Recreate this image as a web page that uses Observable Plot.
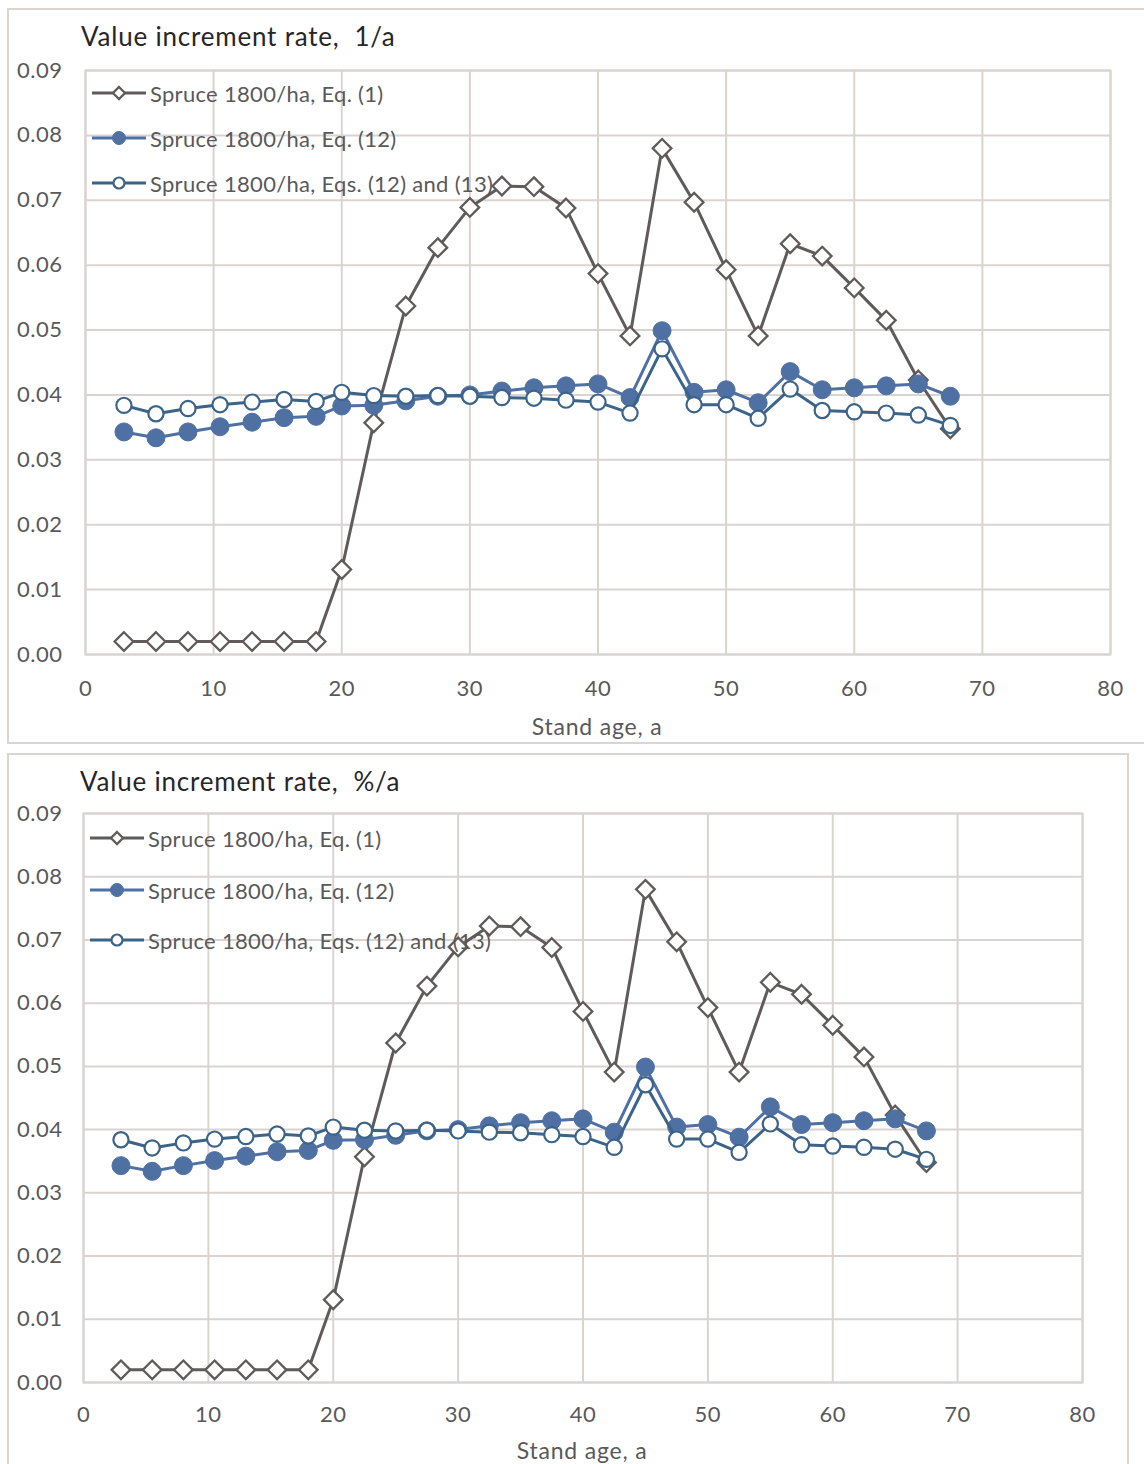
<!DOCTYPE html>
<html>
<head>
<meta charset="utf-8">
<script src="https://cdn.jsdelivr.net/npm/d3@7"></script>
<script src="https://cdn.jsdelivr.net/npm/@observablehq/plot@0.6"></script>
<style>
  body { margin: 0; background: #fff; font-family: Lato, "Open Sans", sans-serif; }
  #page { position: relative; width: 1144px; height: 1464px; overflow: hidden; background: #fff; }
  .panel { position: absolute; border: 2px solid #dbd5d2; box-sizing: border-box; }
  .title { position: absolute; font-size: 26px; line-height: 26px; letter-spacing: 0.8px; color: #262626; white-space: pre; }
  .xlabel { position: absolute; font-size: 23px; line-height: 23px; letter-spacing: 0.8px; color: #595959; white-space: pre; transform: translateX(-50%); }
  .legend-item { position: absolute; z-index: 2; display: flex; align-items: center; white-space: pre; font-size: 22px; letter-spacing: 0.3px; color: #595959; }
  .legend-item svg { display: block; margin-right: 4px; }
  .plot { position: absolute; left: 0; z-index: 1; }
  .plot text { letter-spacing: 0.5px; }
</style>
</head>
<body>
<div id="page"></div>
<script>
// ---- data ----
const ages = [3, 5.5, 8, 10.5, 13, 15.5, 18, 20, 22.5, 25, 27.5, 30, 32.5, 35, 37.5, 40, 42.5, 45, 47.5, 50, 52.5, 55, 57.5, 60, 62.5, 65, 67.5];
const eq1 = [0.002, 0.002, 0.002, 0.002, 0.002, 0.002, 0.002, 0.0131, 0.0357, 0.0537, 0.0627, 0.0689, 0.0722, 0.0721, 0.0688, 0.0587, 0.0491, 0.0780, 0.0697, 0.0593, 0.0491, 0.0633, 0.0614, 0.0565, 0.0515, 0.0423, 0.0348];
const eq12 = [0.0343, 0.0334, 0.0343, 0.0351, 0.0358, 0.0365, 0.0367, 0.0383, 0.0384, 0.0391, 0.0398, 0.0400, 0.0406, 0.0411, 0.0414, 0.0417, 0.0396, 0.0499, 0.0404, 0.0408, 0.0388, 0.0436, 0.0408, 0.0411, 0.0414, 0.0417, 0.0398];
const eq12and13 = [0.0384, 0.0371, 0.0379, 0.0385, 0.0389, 0.0393, 0.0390, 0.0404, 0.0399, 0.0398, 0.0399, 0.0398, 0.0396, 0.0395, 0.0392, 0.0389, 0.0372, 0.0471, 0.0385, 0.0385, 0.0364, 0.0409, 0.0376, 0.0374, 0.0372, 0.0369, 0.0353];
const seriesNames = ["Spruce 1800/ha, Eq. (1)", "Spruce 1800/ha, Eq. (12)", "Spruce 1800/ha, Eqs. (12) and (13)"];
const chartTitles = ["Value increment rate,  1/a", "Value increment rate,  %/a"];
const xAxisTitle = "Stand age, a";
const xTicks = [0, 10, 20, 30, 40, 50, 60, 70, 80];
const yTicks = [0, 0.01, 0.02, 0.03, 0.04, 0.05, 0.06, 0.07, 0.08, 0.09];

// ---- styles ----
const GRID = "#dad4d1";
const styles = [
  {stroke: "#5f5b5a", symbol: "diamond2", r: 8.4, fill: "#fff", markStroke: "#5f5b5a", sw: 2.3, legR: 6},
  {stroke: "#4f70a3", symbol: "circle", r: 9, fill: "#4f70a3", markStroke: "#4f70a3", sw: 1, legR: 6.5},
  {stroke: "#3c6388", symbol: "circle", r: 7.6, fill: "#fff", markStroke: "#3c6388", sw: 2.2, legR: 5.5}
];
const seriesValues = [eq1, eq12, eq12and13];

const panels = [
  {frame: {left: 7, top: 8, width: 1160, height: 736}, svgTop: 0, svgHeight: 744, mL: 85, mR: 34, mT: 70, mB: 90,
   titleLeft: 81, titleTop: 23, xlabelX: 597, xlabelTop: 715, legendX: 92, legendY: [93, 138, 183], tickPadX: 26, tickPadY: 23},
  {frame: {left: 7, top: 753, width: 1122, height: 740}, svgTop: 753, svgHeight: 711, mL: 83, mR: 62, mT: 60, mB: 82,
   titleLeft: 80, titleTop: 768, xlabelX: 582, xlabelTop: 1439, legendX: 90, legendY: [838, 890, 940], tickPadX: 24, tickPadY: 21}
];

const page = document.getElementById("page");

function symbolSvg(st) {
  const w = 54, h = 22, cx = 27, cy = 11;
  let marker;
  if (st.symbol === "diamond2") {
    const d = st.legR;
    marker = `<path d="M${cx},${cy - d}L${cx + d},${cy}L${cx},${cy + d}L${cx - d},${cy}Z" fill="${st.fill}" stroke="${st.markStroke}" stroke-width="${st.sw}"/>`;
  } else {
    marker = `<circle cx="${cx}" cy="${cy}" r="${st.legR}" fill="${st.fill}" stroke="${st.markStroke}" stroke-width="${st.sw}"/>`;
  }
  return `<svg width="${w}" height="${h}"><line x1="0" x2="${w}" y1="${cy}" y2="${cy}" stroke="${st.stroke}" stroke-width="3"/>${marker}</svg>`;
}

panels.forEach((p, pi) => {
  const frame = document.createElement("div");
  frame.className = "panel";
  Object.assign(frame.style, {left: p.frame.left + "px", top: p.frame.top + "px", width: p.frame.width + "px", height: p.frame.height + "px"});
  page.appendChild(frame);

  const title = document.createElement("div");
  title.className = "title";
  title.textContent = chartTitles[pi];
  Object.assign(title.style, {left: p.titleLeft + "px", top: p.titleTop + "px"});
  page.appendChild(title);

  // legend
  seriesNames.forEach((name, si) => {
    const item = document.createElement("div");
    item.className = "legend-item";
    item.innerHTML = symbolSvg(styles[si]) + `<span>${name}</span>`;
    Object.assign(item.style, {left: p.legendX + "px", top: (p.legendY[si] - 12) + "px", height: "24px"});
    page.appendChild(item);
  });

  const marks = [
    Plot.gridX(xTicks, {stroke: GRID, strokeOpacity: 1, strokeWidth: 2}),
    Plot.gridY(yTicks, {stroke: GRID, strokeOpacity: 1, strokeWidth: 2}),
    Plot.frame({stroke: GRID, strokeWidth: 2}),
    Plot.axisX(xTicks, {tickSize: 0, tickPadding: p.tickPadX, label: null, fontSize: 22, fill: "#595959"}),
    Plot.axisY(yTicks, {tickSize: 0, tickPadding: p.tickPadY, label: null, tickFormat: d3.format(".2f"), fontSize: 22, fill: "#595959"})
  ];
  seriesValues.forEach((vals, si) => {
    const st = styles[si];
    const rows = ages.map((a, i) => ({age: a, value: vals[i]}));
    marks.push(Plot.line(rows, {x: "age", y: "value", stroke: st.stroke, strokeWidth: 3}));
    marks.push(Plot.dot(rows, {x: "age", y: "value", symbol: st.symbol, r: st.r, fill: st.fill, stroke: st.markStroke, strokeWidth: st.sw}));
  });

  const svg = Plot.plot({
    width: 1144,
    height: p.svgHeight,
    marginLeft: p.mL,
    marginRight: p.mR,
    marginTop: p.mT,
    marginBottom: p.mB,
    style: {background: "transparent", fontFamily: "Lato, 'Open Sans', sans-serif", fontSize: "22px", color: "#595959"},
    x: {domain: [0, 80]},
    y: {domain: [0, 0.09]},
    marks
  });
  svg.classList.add("plot");
  svg.style.top = p.svgTop + "px";
  svg.style.position = "absolute";
  page.appendChild(svg);

  const xl = document.createElement("div");
  xl.className = "xlabel";
  xl.textContent = xAxisTitle;
  Object.assign(xl.style, {left: p.xlabelX + "px", top: p.xlabelTop + "px"});
  page.appendChild(xl);
});
</script>
</body>
</html>
